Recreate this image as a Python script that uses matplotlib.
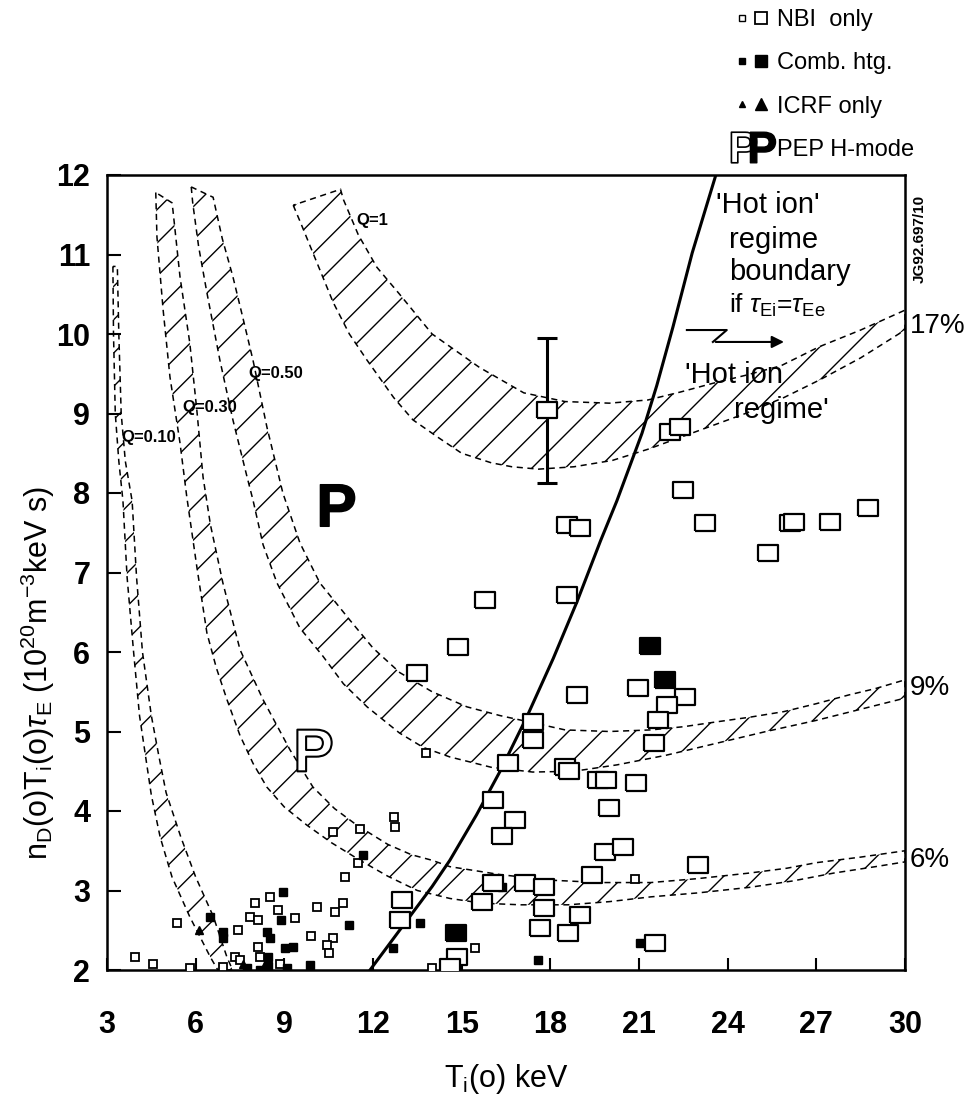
import matplotlib
matplotlib.use("Agg")
import matplotlib.pyplot as plt
from matplotlib.patches import Polygon
from matplotlib.lines import Line2D
from matplotlib.legend_handler import HandlerTuple
from matplotlib.textpath import TextPath
from matplotlib.font_manager import FontProperties
from matplotlib.path import Path

plt.rcParams["font.family"] = ["Liberation Sans", "DejaVu Sans"]
plt.rcParams["mathtext.fontset"] = "custom"
plt.rcParams["mathtext.rm"] = "Liberation Sans"
plt.rcParams["mathtext.it"] = "Liberation Sans:italic"
plt.rcParams["mathtext.bf"] = "Liberation Sans:bold"
plt.rcParams["hatch.linewidth"] = 1.0

# --- Q bands (outer edge / inner edge) ---
q10_outer_x = [3.2, 3.22, 3.28, 3.4, 3.54, 3.68, 3.9, 4.1, 4.3, 4.5, 4.8, 5.2, 5.8, 6.5, 6.75]
q10_outer_y = [10.85, 10.0, 9.0, 8.4, 7.9, 6.94, 6.0, 5.2, 4.7, 4.2, 3.67, 3.17, 2.67, 2.16, 2.0]
q10_inner_x = [3.35, 3.4, 3.48, 3.62, 3.85, 4.0, 4.2, 4.5, 4.75, 5.0, 5.5, 6.0, 6.6, 7.06, 7.25]
q10_inner_y = [10.85, 10.0, 9.0, 8.4, 7.9, 6.94, 6.0, 5.2, 4.7, 4.23, 3.67, 3.17, 2.67, 2.16, 2.0]

q30_outer_x = [4.65, 4.69, 4.9, 5.13, 5.47, 5.7, 6.04, 6.38, 6.7, 7.06, 7.5, 7.94, 8.41, 9.0,
               9.77, 10.6, 11.56, 12.5, 13.5, 14.6, 15.7, 17.0, 18.6, 20.0, 21.4, 23.0,
               24.75, 26.2, 27.6, 29.0, 30.0]
q30_outer_y = [11.78, 11.22, 10.3, 9.46, 8.63, 7.95, 7.07, 6.24, 5.8, 5.4, 4.95, 4.6, 4.3, 4.05,
               3.82, 3.6, 3.38, 3.18, 3.0, 2.9, 2.84, 2.82, 2.82, 2.86, 2.92, 2.97,
               3.04, 3.12, 3.22, 3.3, 3.36]
q30_inner_x = [5.2, 5.23, 5.47, 5.8, 6.04, 6.25, 6.5, 6.92, 7.5, 8.28, 9.19, 9.97, 10.7, 11.46,
               12.5, 13.3, 14.0, 14.6, 16.3, 18.0, 19.7, 21.4, 23.0, 24.75, 26.0, 27.0, 28.5, 30.0]
q30_inner_y = [11.65, 11.56, 10.72, 9.89, 9.04, 8.2, 7.6, 6.87, 6.03, 5.4, 4.77, 4.3, 4.03, 3.82,
               3.58, 3.45, 3.38, 3.3, 3.2, 3.13, 3.1, 3.1, 3.15, 3.22, 3.28, 3.35, 3.42, 3.5]

q50_outer_x = [5.85, 5.9, 6.1, 6.38, 6.82, 7.26, 7.74, 7.94, 8.28, 8.75, 9.53, 10.3, 11.0, 11.8,
               12.9, 13.7, 14.6, 16.0, 17.4, 18.8, 20.25, 21.9, 23.6, 25.3, 27.0, 28.5, 30.0]
q50_outer_y = [11.85, 11.65, 11.1, 10.52, 9.67, 8.92, 8.2, 7.91, 7.35, 6.87, 6.3, 5.95, 5.6, 5.31,
               4.98, 4.8, 4.68, 4.55, 4.49, 4.5, 4.58, 4.7, 4.85, 5.0, 5.14, 5.28, 5.42]
q50_inner_x = [6.59, 6.9, 7.26, 7.6, 7.94, 8.41, 8.95, 9.53, 10.2, 11.22, 12.0, 12.91, 14.0, 15.18,
               16.3, 17.41, 18.5, 20.0, 21.4, 22.5, 23.6, 24.75, 25.9, 27.0, 28.1, 29.0, 30.0]
q50_inner_y = [11.72, 11.2, 10.72, 10.2, 9.67, 8.83, 8.0, 7.37, 6.87, 6.4, 6.05, 5.74, 5.5, 5.31,
               5.2, 5.11, 5.02, 5.0, 5.02, 5.06, 5.12, 5.18, 5.25, 5.35, 5.46, 5.54, 5.65]

q1_outer_x = [9.3, 9.55, 10.1, 10.65, 11.2, 11.8, 12.7, 13.35, 14.2, 15.0, 16.0, 16.7, 17.6, 18.8,
              20.1, 21.3, 22.4, 23.5, 24.6, 25.9, 27.1, 28.5, 30.0]
q1_outer_y = [11.62, 11.4, 10.9, 10.4, 10.0, 9.67, 9.2, 8.92, 8.7, 8.5, 8.38, 8.33, 8.3, 8.33,
              8.41, 8.55, 8.7, 8.85, 9.0, 9.2, 9.42, 9.7, 10.05]
q1_inner_x = [10.9, 11.0, 11.5, 12.13, 12.9, 14.0, 15.6, 17.1, 18.5, 20.0, 21.3, 22.4, 23.5, 24.6,
              25.8, 27.1, 28.5, 30.0]
q1_inner_y = [11.82, 11.69, 11.25, 10.84, 10.5, 10.0, 9.58, 9.26, 9.15, 9.13, 9.17, 9.27, 9.38,
              9.48, 9.6, 9.84, 10.05, 10.3]

q_labels = ["Q=0.10", "Q=0.30", "Q=0.50", "Q=1"]
q_label_x = [3.5, 5.55, 7.8, 11.45]
q_label_y = [8.7, 9.08, 9.5, 11.43]
pct_labels = ["17%", "9%", "6%"]
pct_y = [10.1, 5.55, 3.38]

# 'Hot ion' regime boundary
hot_x = [11.9, 12.5, 13.3, 14.0, 14.6, 15.5, 16.3, 17.2, 18.1, 18.9, 19.7, 20.25, 21.1, 21.6,
         22.15, 22.8, 23.6]
hot_y = [2.0, 2.3, 2.7, 3.05, 3.38, 3.95, 4.5, 5.18, 5.92, 6.63, 7.4, 7.9, 8.75, 9.35,
         10.09, 11.02, 12.0]

# --- data points ---
nbi_x = [17.9, 22.05, 22.4, 22.5, 18.56, 19.0, 23.23, 26.1, 26.25, 27.46, 28.74, 25.36, 15.79,
         18.56, 14.87, 13.49, 20.96, 18.9, 22.55, 21.94, 21.64, 17.41, 17.41, 21.5, 16.57, 18.5,
         18.62, 19.6, 19.9, 20.9, 16.06, 16.8, 16.36, 20.0, 19.85, 20.46, 23.0, 19.4, 17.14,
         16.06, 17.8, 15.69, 17.8, 19.0, 17.65, 18.6, 21.54, 12.98, 12.9, 14.84, 14.6]
nbi_y = [9.05, 8.77, 8.83, 8.04, 7.6, 7.56, 7.62, 7.62, 7.63, 7.64, 7.81, 7.25, 6.65,
         6.72, 6.06, 5.74, 5.55, 5.46, 5.43, 5.33, 5.14, 5.12, 4.89, 4.85, 4.6, 4.55,
         4.5, 4.39, 4.39, 4.35, 4.14, 3.89, 3.68, 4.04, 3.49, 3.55, 3.32, 3.19, 3.1,
         3.09, 3.04, 2.86, 2.78, 2.69, 2.53, 2.47, 2.34, 2.88, 2.63, 2.16, 2.04]
nbi_small_x = [13.8, 12.7, 12.74, 11.05, 11.49, 10.65, 11.56, 20.86, 15.45, 14.0, 3.95, 4.56,
               5.8, 5.37, 7.43, 6.92, 7.33, 7.5, 8.0, 8.5, 7.84, 8.1, 8.78, 9.36, 8.1, 8.18,
               8.85, 10.1, 10.98, 10.71, 9.9, 10.65, 10.44, 10.5]
nbi_small_y = [4.73, 3.92, 3.8, 3.17, 3.35, 3.74, 3.77, 3.15, 2.28, 2.03, 2.16, 2.08,
               2.02, 2.59, 2.5, 2.04, 2.16, 2.12, 2.84, 2.92, 2.67, 2.63, 2.75, 2.65, 2.29, 2.16,
               2.08, 2.79, 2.84, 2.73, 2.43, 2.4, 2.31, 2.22]
comb_x = [21.37, 21.88, 14.8]
comb_y = [6.08, 5.65, 2.47]
comb_small_x = [6.48, 6.92, 6.92, 7.74, 8.95, 8.9, 8.41, 8.5, 9.02, 9.29, 8.45, 8.18, 8.45, 9.09,
                9.87, 11.19, 11.66, 13.59, 12.68, 16.36, 17.58, 21.03, 18.45]
comb_small_y = [2.67, 2.48, 2.4, 2.02, 2.98, 2.63, 2.48, 2.4, 2.28, 2.29, 2.16, 2.0, 2.05, 2.02,
                2.06, 2.57, 3.45, 2.59, 2.28, 3.04, 2.13, 2.34, 4.52]
icrf_small_x = [6.1, 7.6, 8.3]
icrf_small_y = [2.5, 2.08, 2.05]
pep_open_x, pep_open_y = [9.94], [4.77]
pep_bold_x, pep_bold_y = [10.71], [7.85]

err_x, err_y = [17.9], [9.05]
err_lo, err_hi = [0.92], [0.9]

fig = plt.figure(figsize=(9.75, 10.96), dpi=100)
ax = fig.add_axes([107 / 975, 1 - 970 / 1096, 798 / 975, 795 / 1096])
ax.set_xlim(3, 30)
ax.set_ylim(2, 12)


def band(xo, yo, xi, yi):
    verts = list(zip(xo, yo)) + list(zip(xi[::-1], yi[::-1]))
    ax.add_patch(Polygon(verts, closed=True, facecolor="none", edgecolor="black",
                         hatch="/", lw=1.1, ls=(0, (4, 3))))


band(q10_outer_x, q10_outer_y, q10_inner_x, q10_inner_y)
band(q30_outer_x, q30_outer_y, q30_inner_x, q30_inner_y)
band(q50_outer_x, q50_outer_y, q50_inner_x, q50_inner_y)
band(q1_outer_x, q1_outer_y, q1_inner_x, q1_inner_y)

for lab, x, y in zip(q_labels, q_label_x, q_label_y):
    ax.text(x, y, lab, fontsize=12, fontweight="bold", ha="left", va="center")

ax.plot(hot_x, hot_y, color="black", lw=2.2)

rect = [(-1.15, -1), (1.15, -1), (1.15, 1), (-1.15, 1), (-1.15, -1)]


def p_marker():
    tp = TextPath((0, 0), "P", prop=FontProperties(family="Liberation Sans", weight="bold"))
    v = tp.vertices.copy()
    v[:, 0] -= (v[:, 0].min() + v[:, 0].max()) / 2
    v[:, 1] -= (v[:, 1].min() + v[:, 1].max()) / 2
    return Path(v, tp.codes)


p_path = p_marker()

ax.errorbar(err_x, err_y, yerr=[err_lo, err_hi], fmt="none", ecolor="black",
            elinewidth=2.2, capsize=7, capthick=2.2, zorder=3)
ax.plot(nbi_small_x, nbi_small_y, ls="none", marker="s", ms=6, mfc="white", mec="black",
        mew=1.3, zorder=4)
ax.plot(comb_small_x, comb_small_y, ls="none", marker="s", ms=6, mfc="black", mec="black",
        zorder=4)
ax.plot(icrf_small_x, icrf_small_y, ls="none", marker="^", ms=6, mfc="black", mec="black",
        zorder=4)
ax.plot(nbi_x, nbi_y, ls="none", marker=rect, ms=14, mfc="white", mec="black", mew=1.6,
        zorder=5)
ax.plot(comb_x, comb_y, ls="none", marker=rect, ms=14, mfc="black", mec="black", mew=1.6,
        zorder=5)
ax.plot(pep_open_x, pep_open_y, ls="none", marker=p_path, ms=30, mfc="white", mec="black",
        mew=1.5, zorder=5)
ax.plot(pep_bold_x, pep_bold_y, ls="none", marker=p_path, ms=30, mfc="black", mec="black",
        zorder=5)

# annotations on the right
ax.text(23.6, 11.62, "'Hot ion'", fontsize=21, ha="left", va="center")
ax.text(24.05, 11.18, "regime", fontsize=21, ha="left", va="center")
ax.text(24.05, 10.78, "boundary", fontsize=21, ha="left", va="center")
ax.text(24.05, 10.36, r"if $\tau_{\mathrm{Ei}}$=$\tau_{\mathrm{Ee}}$", fontsize=19,
        ha="left", va="center")
ax.plot([22.62, 23.97, 23.5], [10.05, 10.05, 9.9], color="black", lw=1.5)
ax.annotate("", xy=(26.0, 9.9), xytext=(23.5, 9.9),
            arrowprops=dict(arrowstyle="-|>", color="black", lw=1.5, mutation_scale=18))
ax.text(22.55, 9.48, "'Hot ion", fontsize=21, ha="left", va="center")
ax.text(24.2, 9.04, "regime'", fontsize=21, ha="left", va="center")

for lab, y in zip(pct_labels, pct_y):
    ax.text(30.15, y, lab, fontsize=20, ha="left", va="center", clip_on=False)
ax.text(30.25, 11.2, "JG92.697/10", fontsize=11, fontweight="bold", rotation=90,
        ha="left", va="center", clip_on=False)

ax.set_xticks(range(3, 31, 3))
ax.set_yticks(range(2, 13))
ax.tick_params(axis="both", direction="in", width=1.5, labelsize=22)
ax.tick_params(axis="y", length=10, pad=12)
ax.tick_params(axis="x", length=9, pad=29)
for t in ax.get_xticklabels() + ax.get_yticklabels():
    t.set_fontweight("bold")
for s in ax.spines.values():
    s.set_linewidth(1.8)

ax.set_xlabel(r"T$_\mathrm{i}$(o) keV", fontsize=22)
ax.xaxis.set_label_coords(0.5, -0.116)
ax.set_ylabel(r"n$_\mathrm{D}$(o)T$_\mathrm{i}$(o)$\tau_\mathrm{E}$ (10$^{20}$m$^{-3}$keV s)",
              fontsize=22)
ax.yaxis.set_label_coords(-0.063, 0.374)


# legend
def mk(marker, ms, fc, mew=1.0):
    return Line2D([], [], ls="none", marker=marker, ms=ms, mfc=fc, mec="black", mew=mew)


handles = [(mk("s", 4, "white"), mk("s", 9, "white", 1.3)),
           (mk("s", 4, "black"), mk("s", 9, "black")),
           (mk("^", 4, "black"), mk("^", 9, "black")),
           (mk(p_path, 22, "white", 1.2), mk(p_path, 22, "black"))]
labels = ["NBI  only", "Comb. htg.", "ICRF only", "PEP H-mode"]
fig.legend(handles, labels, loc="upper left", bbox_to_anchor=(733 / 975, 1 - 9 / 1096),
           frameon=False, fontsize=17, handlelength=1.6, handletextpad=0.25,
           labelspacing=0.9, borderpad=0, borderaxespad=0,
           handler_map={tuple: HandlerTuple(ndivide=None, pad=0)})

fig.savefig("out.png", dpi=100)
